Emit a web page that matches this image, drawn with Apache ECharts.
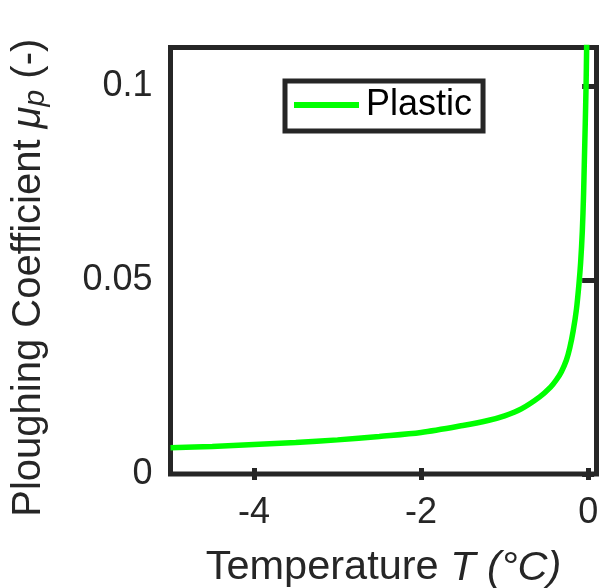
<!DOCTYPE html>
<html>
<head>
<meta charset="utf-8">
<script src="https://cdn.jsdelivr.net/npm/echarts@6/dist/echarts.min.js"></script>
<style>
  html, body { margin: 0; padding: 0; background: #fff; }
  #chart { width: 602px; height: 588px; }
</style>
</head>
<body>
<div id="chart"></div>
<script>
// values
var temps = [-5.0, -4.5, -4.0, -3.5, -3.0, -2.5, -2.0, -1.5, -1.2, -1.0, -0.8, -0.58, -0.45, -0.38,
  -0.32, -0.26, -0.22, -0.18, -0.14, -0.11, -0.09, -0.07, -0.055, -0.045, -0.035, -0.025, -0.018, -0.014];
var plastic = [0.0068, 0.0071, 0.0076, 0.0081, 0.0088, 0.0097, 0.0107, 0.0125, 0.0138, 0.0150, 0.0168, 0.0199, 0.0224, 0.0243,
  0.0264, 0.0294, 0.0325, 0.0368, 0.0425, 0.0490, 0.0545, 0.0625, 0.0720, 0.0810, 0.0900, 0.1000, 0.1100, 0.1180];
var xTicks = [-4, -2, 0];
var yTicks = [0, 0.05, 0.1];

var font = 'Liberation Sans, Arial, sans-serif';
var ink = '#262626';

var chart = echarts.init(document.getElementById('chart'));

var tick = { show: true, inside: true, length: 6, lineStyle: { color: ink, width: 5 } };

chart.setOption({
  animation: false,
  grid: {
    left: 170.5, right: 5.5, top: 47.5, bottom: 114,
    outerBoundsMode: 'none', containLabel: false,
    show: true, borderColor: ink, borderWidth: 5, backgroundColor: '#fff'
  },
  legend: {
    left: 285, top: 81,
    padding: [6, 11, 8, 9],
    borderColor: ink, borderWidth: 5, borderRadius: 0,
    backgroundColor: '#fff',
    icon: 'rect', itemWidth: 65, itemHeight: 6, itemGap: 0,
    textStyle: { fontFamily: font, fontSize: 36, color: '#000', padding: [2, 0, 0, 2] },
    data: ['Plastic']
  },
  xAxis: [{
    type: 'value', min: -5, max: 0.1,
    axisLine: { show: false },
    splitLine: { show: false },
    axisTick: Object.assign({ customValues: xTicks }, tick),
    axisLabel: { customValues: xTicks, margin: 21, fontFamily: font, fontSize: 36, color: ink },
    name: '{a|Temperature }{i|T (°C)}',
    nameLocation: 'middle', nameGap: 73,
    nameTextStyle: {
      rich: {
        a: { fontFamily: font, fontSize: 41.5, color: ink },
        i: { fontFamily: font, fontSize: 41.5, fontStyle: 'italic', color: ink }
      }
    }
  }, {
    type: 'value', min: -5, max: 0.1, position: 'top',
    axisLine: { show: false }, splitLine: { show: false },
    axisTick: Object.assign({ customValues: xTicks }, tick),
    axisLabel: { show: false }
  }],
  yAxis: [{
    type: 'value', min: 0, max: 0.11,
    axisLine: { show: false },
    splitLine: { show: false },
    axisTick: Object.assign({ customValues: yTicks }, tick),
    axisLabel: {
      customValues: yTicks, margin: 18, fontFamily: font, fontSize: 36, color: ink,
      formatter: function (v) { return String(+v.toFixed(2)); }
    },
    name: '{a|Ploughing Coefficient }{i|μ}{s|p}{a| (-)}',
    nameLocation: 'middle', nameGap: 120,
    nameTextStyle: {
      padding: [0, 34, 0, 0],
      rich: {
        a: { fontFamily: font, fontSize: 40, color: ink },
        i: { fontFamily: font, fontSize: 40, fontStyle: 'italic', color: ink },
        s: { fontFamily: font, fontSize: 30, fontStyle: 'italic', color: ink, padding: [14, 0, 0, 0] }
      }
    }
  }, {
    type: 'value', min: 0, max: 0.11, position: 'right',
    axisLine: { show: false }, splitLine: { show: false },
    axisTick: Object.assign({ customValues: yTicks }, tick),
    axisLabel: { show: false }
  }],
  series: [{
    name: 'Plastic',
    type: 'line',
    data: temps.map(function (t, i) { return [t, plastic[i]]; }),
    symbol: 'none',
    smooth: 0.3,
    clip: true,
    lineStyle: { color: '#00ff00', width: 5.5 },
    itemStyle: { color: '#00ff00' }
  }]
});
</script>
</body>
</html>
